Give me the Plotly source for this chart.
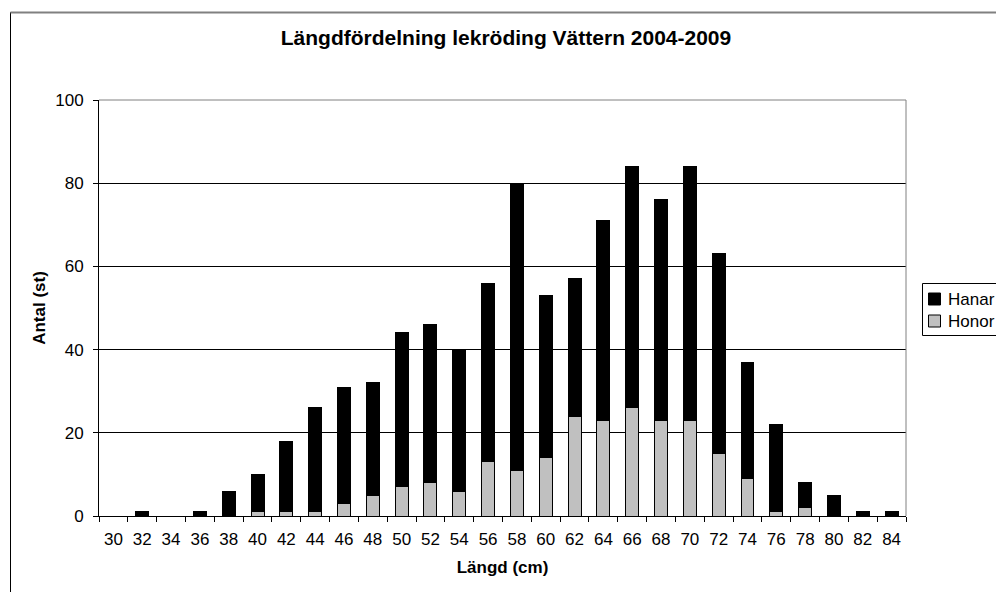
import plotly.graph_objects as go

# Length classes (cm) and counts per sex
LANGD = [str(v) for v in range(30, 86, 2)]
HONOR = [0, 0, 0, 0, 0, 1, 1, 1, 3, 5, 7, 8, 6, 13, 11, 14, 24, 23, 26, 23, 23, 15, 9, 1, 2, 0, 0, 0]
HANAR = [0, 1, 0, 1, 6, 9, 17, 25, 28, 27, 37, 38, 34, 43, 69, 39, 33, 48, 58, 53, 61, 48, 28, 21, 6, 5, 1, 1]

TITLE = "Längdfördelning lekröding Vättern 2004-2009"
FONT = "Liberation Sans, Arial, sans-serif"
COLORS = {"Hanar": "black", "Honor": "#c0c0c0"}

# body margin is removed in the page (post_script), so figure == window
W, H = 996, 592
# plot area on screen: x 99..906, y 100..516
L, T = 99, 100
R, B = W - 906, H - 516
PW, PH = W - L - R, H - T - B


def px_x(p):
    """screen pixel -> paper x"""
    return (p - L) / PW


def px_y(p):
    """screen pixel -> paper y"""
    return (H - B - p) / PH


fig = go.Figure()
fig.add_trace(go.Bar(
    x=LANGD, y=HONOR, name="Honor",
    marker=dict(color=COLORS["Honor"], line=dict(color="black", width=1)),
))
fig.add_trace(go.Bar(
    x=LANGD, y=HANAR, name="Hanar",
    marker=dict(color=COLORS["Hanar"], line=dict(color="black", width=1)),
))

fig.update_layout(
    width=W, height=H,
    barmode="stack", bargap=0.55,
    margin=dict(l=L, r=R, t=T, b=B, autoexpand=False),
    paper_bgcolor="white", plot_bgcolor="white",
    font=dict(family=FONT, size=17, color="black"),
    title=dict(text="<b>" + TITLE + "</b>", x=506 / W, xanchor="center",
               y=1 - 38 / H, yanchor="middle", font=dict(size=21)),
    showlegend=False,
)

fig.update_xaxes(
    type="category", tickson="boundaries", ticks="outside", ticklen=5,
    tickcolor="black", showline=True, linecolor="black", linewidth=1,
    showgrid=False, tickfont=dict(size=17), ticklabelstandoff=8,
    title=dict(text="<b>Längd (cm)</b>", font=dict(size=17), standoff=12),
)
fig.update_yaxes(
    range=[0, 100], dtick=20, ticks="outside", ticklen=5, tickcolor="black",
    showline=True, linecolor="black", linewidth=1, zeroline=False,
    showgrid=True, gridcolor="black", gridwidth=1, tickfont=dict(size=17),
    ticklabelstandoff=6,
    title=dict(text="<b>Antal (st)</b>", font=dict(size=17), standoff=5),
)

# gray plot-area border on top and right, outer chart frame
fig.add_shape(type="line", xref="paper", yref="paper", x0=0, x1=1, y0=1, y1=1,
              line=dict(color="#808080", width=1), layer="above")
fig.add_shape(type="line", xref="paper", yref="paper", x0=1, x1=1, y0=0, y1=1,
              line=dict(color="#808080", width=1), layer="above")
fig.add_shape(type="rect", xref="paper", yref="paper",
              x0=px_x(10.5), x1=px_x(1020), y0=px_y(12.5), y1=px_y(620),
              line=dict(color="black", width=1), layer="below")
fig.add_shape(type="line", xref="paper", yref="paper",
              x0=px_x(10.5), x1=px_x(1020), y0=px_y(12.5), y1=px_y(12.5),
              line=dict(color="#808080", width=2), layer="above")

# Excel-style legend box (plotly's own legend puts the text too far right)
fig.add_shape(type="rect", xref="paper", yref="paper",
              x0=px_x(922.5), x1=px_x(1020), y0=px_y(283.5), y1=px_y(335.5),
              line=dict(color="black", width=1), fillcolor="white", layer="above")
for i, name in enumerate(["Hanar", "Honor"]):
    top = 293 + i * 22
    fig.add_shape(type="rect", xref="paper", yref="paper",
                  x0=px_x(928.5), x1=px_x(940.5), y0=px_y(top), y1=px_y(top + 12),
                  line=dict(color="black", width=1), fillcolor=COLORS[name],
                  layer="above")
    fig.add_annotation(xref="paper", yref="paper", x=px_x(946), y=px_y(top + 6),
                       text=name, showarrow=False, xanchor="left", yanchor="middle",
                       font=dict(size=17))

fig.write_html(
    "out.html",
    config={"displayModeBar": False},
    post_script="document.body.style.margin='0';document.body.style.overflow='hidden';",
)
